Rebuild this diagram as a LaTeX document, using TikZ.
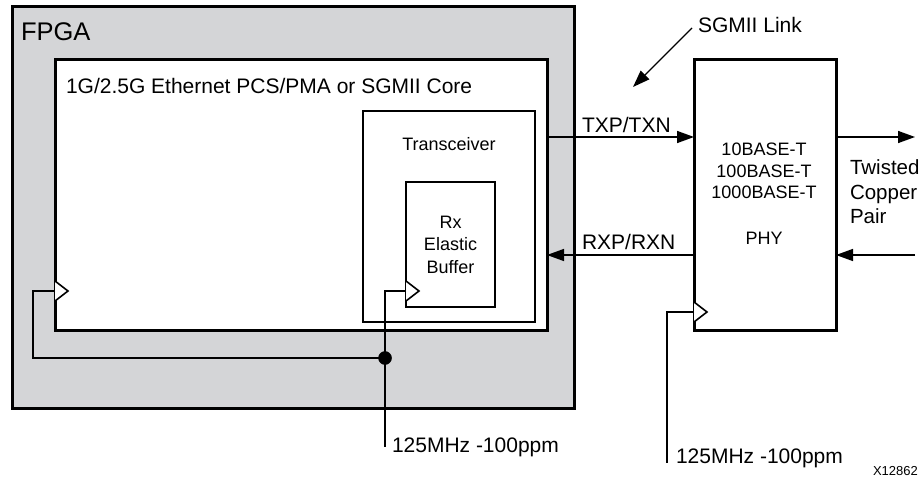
\documentclass[tikz,border=0pt]{standalone}
\usepackage{fontspec}
\setmainfont{Liberation Sans}
\usetikzlibrary{arrows.meta}
\definecolor{fpgagray}{RGB}{212,213,215}
\begin{document}
\begin{tikzpicture}[x=1pt,y=-1pt,
  box/.style={draw=black, fill=white, line width=3pt, inner sep=0pt, outer sep=0pt, anchor=north west},
  thinbox/.style={box, line width=2.6pt},
  wire/.style={line width=1.3pt},
  arr/.style={line width=1.5pt, -{Triangle[length=17pt,width=12pt]}},
  clk/.style={line width=1.6pt, fill=white, line join=miter},
  lbl/.style={inner sep=0pt, outer sep=0pt, anchor=base west, font=\fontsize{21}{25}\selectfont},
  small/.style={inner sep=0pt, outer sep=0pt, anchor=base, align=center, font=\fontsize{18}{22}\selectfont},
  junction/.style={circle, draw=black, fill=black, line width=0.5pt, inner sep=0pt, minimum size=13pt}
]
\useasboundingbox (0,0) rectangle (923,478);

% boxes
\node[box, fill=fpgagray, minimum width=562pt, minimum height=401pt] (fpga) at (12,7) {};
\node[box, minimum width=492pt, minimum height=270pt] (core) at (55,60) {};
\node[thinbox, minimum width=172pt, minimum height=211pt] (xcvr) at (363,111) {};
\node[thinbox, minimum width=89pt, minimum height=125pt] (buf) at (406,182) {};
\node[box, minimum width=142pt, minimum height=270pt] (phy) at (694,60) {};

% labels in boxes (multi-line nodes: base = last line)
\node[lbl, font=\fontsize{25.5}{30}\selectfont] (fpgalbl) at (21,41) {FPGA};
\node[lbl] (corelbl) at (66,94) {1G/2.5G Ethernet PCS/PMA or SGMII Core};
\node[small] (xcvrlbl) at (449,151) {Transceiver};
\node[small, font=\fontsize{18}{22.5}\selectfont] (buflbl) at (450.5,273) {Rx\\Elastic\\Buffer};
\node[small, font=\fontsize{18}{21.5}\selectfont] (phylbl) at (764,199) {10BASE-T\\100BASE-T\\1000BASE-T};
\node[small] (phyname) at (764,244) {PHY};

% clock inputs
\coordinate (coreclk) at (core.west |- 0,291);
\coordinate (bufclk) at (buf.west |- 0,291);
\coordinate (phyclk) at (phy.west |- 0,312);
\draw[clk] (coreclk) ++(0,-10) -- ++(13,10) -- ++(-13,10);
\draw[clk] (bufclk) ++(0,-10) -- ++(13,10) -- ++(-13,10);
\draw[clk] (phyclk) ++(0,-10) -- ++(13,10) -- ++(-13,10);

\node[junction] (dot) at (385,358) {};
\coordinate (clkin1) at (385,447);
\coordinate (clkin2) at (667,463);
\draw[wire] (coreclk) -- ++(-22,0) |- (dot.center);
\draw[wire] (bufclk) -| (clkin1);
\draw[wire] (phyclk) -| (clkin2);
\node[lbl] (clk1lbl) at (392,452) {125MHz -100ppm};
\node[lbl] (clk2lbl) at (676,463) {125MHz -100ppm};

% serial links
\coordinate (txy) at (0,137);
\coordinate (rxy) at (0,255);
\coordinate (txout) at (915,137);
\coordinate (rxin) at (915,255);
\draw[arr] (core.east |- txy) -- (phy.west |- txy);
\draw[arr] (phy.west |- rxy) -- (core.east |- rxy);
\draw[arr] (phy.east |- txy) -- (txout);
\draw[arr] (rxin) -- (phy.east |- rxy);
\node[lbl] (txlbl) at (582,133) {TXP/TXN};
\node[lbl] (rxlbl) at (582,250) {RXP/RXN};
\node[lbl, align=left, font=\fontsize{20.5}{24.5}\selectfont] (cable) at (850,224) {Twisted\\Copper\\Pair};

% SGMII link callout
\node[lbl] (sgmii) at (698,33) {SGMII Link};
\coordinate (sgtip) at (633,87);
\draw[arr, line width=1.3pt] ([xshift=-6pt,yshift=5pt]sgmii.base west) -- (sgtip);

\node[lbl, font=\fontsize{13}{15}\selectfont] (fig) at (873,475) {X12862};
\end{tikzpicture}
\end{document}
